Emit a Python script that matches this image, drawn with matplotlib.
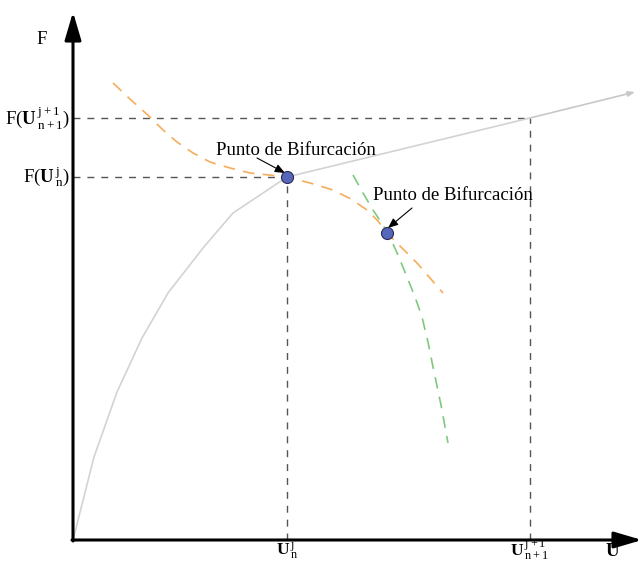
import matplotlib

matplotlib.use("Agg")
import matplotlib.pyplot as plt  # noqa: E402

plt.rcParams["font.family"] = "Liberation Serif"
plt.rcParams["mathtext.fontset"] = "custom"
plt.rcParams["mathtext.rm"] = "Liberation Serif"
plt.rcParams["mathtext.it"] = "Liberation Serif"
plt.rcParams["mathtext.bf"] = "Liberation Serif:bold"

# equilibrium path (U, F), origin at the axis corner
path_u = [0, 21, 44, 69, 95, 130, 160, 214, 457, 562]
path_f = [0, 83, 148, 202, 247, 292, 327, 363, 422, 448]

# secondary branches through the bifurcation points
orange_u = [40, 58, 77, 90, 104, 120, 137, 157, 177, 196, 214, 237, 260, 278, 294, 305, 314, 329, 344, 357, 370]
orange_f = [457, 440, 423, 410, 398, 387, 378, 372, 367, 365, 363, 357, 350, 341, 330, 319, 307, 292, 277, 262, 247]
green_u = [280, 290, 300, 308, 315, 325, 334, 342, 349, 355, 360, 368, 375]
green_f = [365, 347, 330, 318, 307, 285, 263, 243, 223, 198, 173, 135, 97]

# bifurcation points and reference levels
bif_u = [214, 314]
bif_f = [363, 307]
u_n = 214
u_n1 = 457
f_n = 363
f_n1 = 422

fig = plt.figure(figsize=(6.39, 5.61), dpi=100)
ax = fig.add_axes([0, 0, 1, 1])
ax.set_xlim(-73, 566)
ax.set_ylim(-21, 540)
ax.axis("off")

ref = dict(color="#555555", linewidth=1.0, linestyle=(0, (5, 5)))
ax.plot([0, u_n1], [f_n1, f_n1], **ref)
ax.plot([0, u_n], [f_n, f_n], **ref)
ax.plot([u_n, u_n], [0, f_n], **ref)
ax.plot([u_n1, u_n1], [0, f_n1], **ref)

ax.plot(path_u[:-1], path_f[:-1], color="#d3d3d3", linewidth=1.2)
ax.annotate("", xy=(path_u[-1], path_f[-1]), xytext=(path_u[-2], path_f[-2]),
            annotation_clip=False,
            arrowprops=dict(arrowstyle="-|>,head_length=0.4,head_width=0.15",
                            color="#c8c8c8", lw=1.2, mutation_scale=10,
                            shrinkA=0, shrinkB=0))

ax.plot(orange_u, orange_f, color="#f6ad5a", linewidth=1.2, linestyle=(0, (7, 5)))
ax.plot(green_u, green_f, color="#7fc97f", linewidth=1.2, linestyle=(0, (7, 5)))

ax.scatter(bif_u, bif_f, s=75, color="#5566bb", edgecolor="#2a2a55", linewidth=0.8, zorder=5)

# axes with arrowheads
axis_arrow = dict(arrowstyle="-|>,head_length=0.85,head_width=0.25", color="black",
                  lw=2.2, mutation_scale=20, shrinkA=0, shrinkB=0)
ax.annotate("", xy=(0, 528), xytext=(0, -1), annotation_clip=False, arrowprops=axis_arrow)
ax.annotate("", xy=(569, 0), xytext=(-1, 0), annotation_clip=False, arrowprops=axis_arrow)

fs = 13.5
pointer = dict(arrowstyle="-|>,head_length=0.6,head_width=0.25", color="black", lw=0.8,
               mutation_scale=10, shrinkA=0, shrinkB=0)
ax.text(223, 390, "Punto de Bifurcación", fontsize=fs, ha="center", va="center")
ax.annotate("", xy=(212, 367), xytext=(184, 382), arrowprops=pointer)
ax.text(380, 345, "Punto de Bifurcación", fontsize=fs, ha="center", va="center")
ax.annotate("", xy=(315, 312), xytext=(339, 332), arrowprops=pointer)

ax.text(-31, 500, "F", fontsize=fs, ha="center", va="center")
ax.text(-3, f_n1, r"F($\mathbf{U}\,^{j+1}_{n+1}$)", fontsize=fs, ha="right", va="center")
ax.text(-3, f_n, r"F($\mathbf{U}\,^{j}_{n}$)", fontsize=fs, ha="right", va="center")
ax.text(u_n, -10, r"$\mathbf{U}\,^{j}_{n}$", fontsize=12.5, ha="center", va="center")
ax.text(u_n1, -10, r"$\mathbf{U}\,^{j+1}_{n+1}$", fontsize=12.5, ha="center", va="center")
ax.text(540, -12, r"$\mathbf{U}$", fontsize=fs, ha="center", va="center")

fig.savefig("out.png", dpi=100, facecolor="white")
